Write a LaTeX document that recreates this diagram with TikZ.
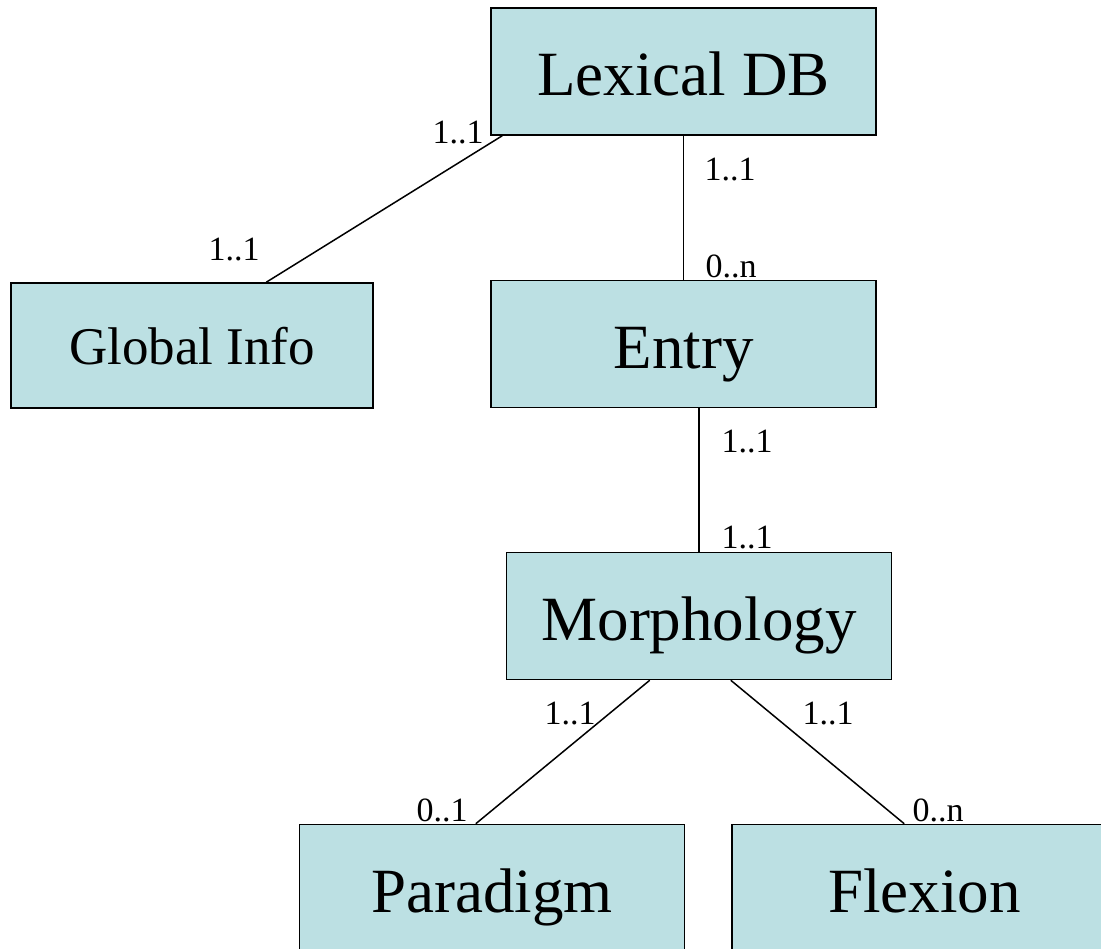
\documentclass[tikz,border=0pt]{standalone}
\usepackage{fontspec}
\setmainfont{Liberation Serif}
\definecolor{boxfill}{RGB}{188,224,227}
\begin{document}
\begin{tikzpicture}[x=1pt,y=-1pt,
  entity/.style={draw=black, fill=boxfill, line width=1.5pt, inner sep=0pt,
    minimum width=385pt, minimum height=127pt,
    text height=49pt, text depth=0pt,
    font=\fontsize{63}{70}\selectfont},
  smallentity/.style={entity, minimum width=362pt, minimum height=125pt,
    text height=39pt, text depth=0pt,
    font=\fontsize{53}{60}\selectfont},
  link/.style={draw=black, line width=1.5pt},
  mult/.style={inner sep=0pt, font=\fontsize{34}{40}\selectfont}]
  \clip (0,0) rectangle (1101,949);
  \fill[white] (0,0) rectangle (1101,949);

  % entities
  \node[entity] (lex) at (683.5,71.5) {Lexical DB};
  \node[smallentity] (glob) at (192,345.5) {Global Info};
  \node[entity] (entry) at (683.5,344) {Entry};
  \node[entity] (morph) at (699,616) {Morphology};
  \node[entity] (par) at (492,888) {Paradigm};
  \node[entity] (flex) at (924.5,888) {Flexion};

  % associations
  \draw[link] ([xshift=12]lex.south west) -- ([xshift=256]glob.north west);
  \draw[link] (lex.south) -- (entry.north);
  \draw[link] (morph.north |- entry.south) -- (morph.north);
  \draw[link] ([xshift=144]morph.south west) -- ([xshift=177]par.north west);
  \draw[link] ([xshift=225]morph.south west) -- ([xshift=173]flex.north west);

  % multiplicities
  \node[mult] (m1) at (458,133) {1..1};
  \node[mult] (m2) at (234,250) {1..1};
  \node[mult] (m3) at (730,170) {1..1};
  \node[mult] (m4) at (731,266) {0..n};
  \node[mult] (m5) at (747,442) {1..1};
  \node[mult] (m6) at (747,538) {1..1};
  \node[mult] (m7) at (570,714) {1..1};
  \node[mult] (m8) at (442,810) {0..1};
  \node[mult] (m9) at (828,714) {1..1};
  \node[mult] (m10) at (938,810) {0..n};
\end{tikzpicture}
\end{document}
